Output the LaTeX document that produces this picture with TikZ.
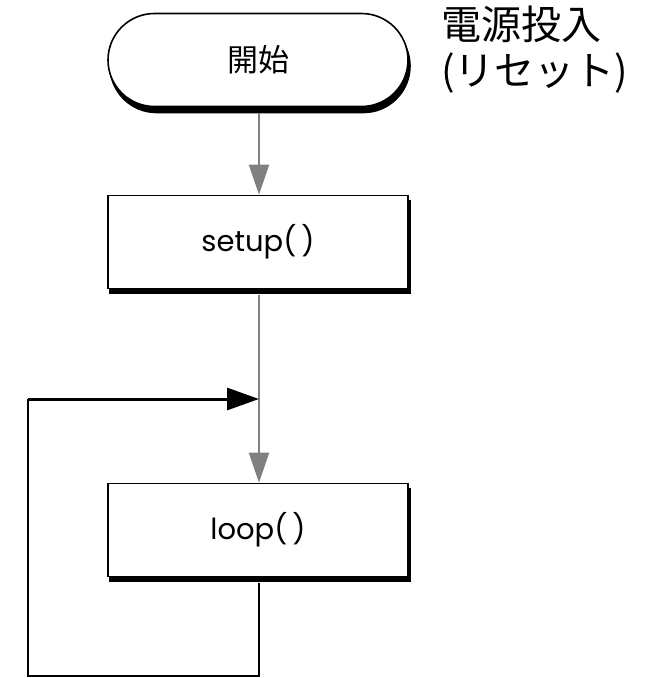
\documentclass[tikz,border=0pt]{standalone}
\usepackage{fontspec}
\setmainfont{Poppins}
\newfontfamily\cjk{Noto Sans CJK JP}
\usetikzlibrary{arrows.meta,shapes.misc}
\begin{document}
\begin{tikzpicture}[x=1pt,y=-1pt,
  flowbox/.style={draw=black,line width=1.6pt,fill=white,minimum width=300pt,minimum height=93pt,inner sep=0pt},
  termbox/.style={flowbox,rounded rectangle},
  shadowbox/.style={fill=black,draw=black,line width=1.6pt,minimum width=300pt,minimum height=93pt,inner sep=0pt},
  grayline/.style={draw=black!50,line width=2pt,-{Triangle[width=20pt,length=30pt]}},
  blackline/.style={draw=black,line width=3pt}]
\useasboundingbox (0,0) rectangle (651,678);
% shadows
\node[shadowbox,rounded rectangle] at (260,66) {};
\node[shadowbox] at (260,247) {};
\node[shadowbox] at (260,535) {};
% boxes
\node[termbox] (start) at (258,60) {\cjk\fontsize{31}{36}\selectfont 開始};
\node[flowbox] (setup) at (258,242) {\fontsize{29}{34}\selectfont setup(\,)};
\node[flowbox] (loop) at (258,530) {\fontsize{29}{34}\selectfont loop(\,)};
\node[anchor=north west,align=left,inner sep=0pt,font={\cjk\fontsize{40}{46}\selectfont}] (label) at (441,6)
  {電源投入\\(リセット)};
% connectors
\coordinate (join) at (259,399);
\coordinate (bot) at (259,676);
\coordinate (botl) at (28,676);
\coordinate (topl) at (28,399);
\draw[grayline] ([yshift=-6pt]start.south -| join) -- (setup.north -| join);
\draw[grayline] ([yshift=-6pt]setup.south -| join) -- (loop.north -| join);
\draw[blackline,line width=1.8pt] ([yshift=-6pt]loop.south -| bot) -- (bot) -- (botl) -- (topl);
\draw[blackline,-{Triangle[width=22pt,length=32pt]}] (topl) -- (join);
\end{tikzpicture}
\end{document}
